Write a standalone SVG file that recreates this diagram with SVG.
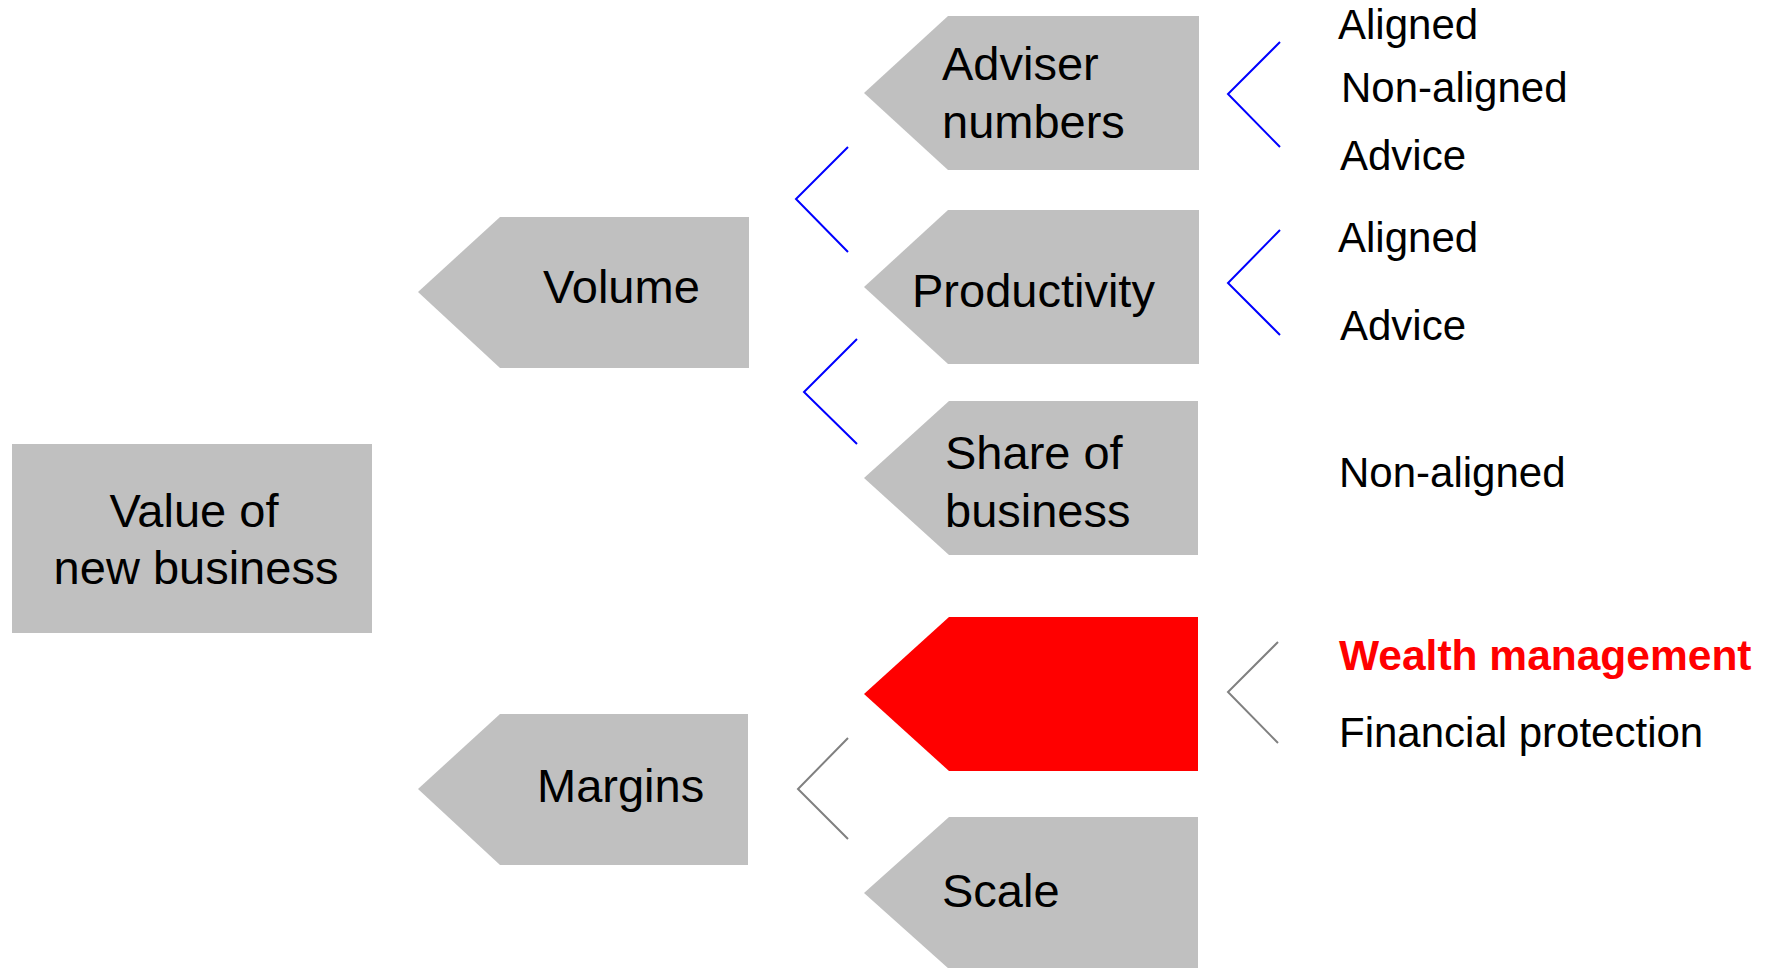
<svg xmlns="http://www.w3.org/2000/svg" width="1771" height="968" viewBox="0 0 1771 968">
<style>
.box{fill:#C0C0C0}
.red{fill:#FF0000}
.t{font-family:"Liberation Sans",Arial,sans-serif;font-size:47px;fill:#000}
.s{font-family:"Liberation Sans",Arial,sans-serif;font-size:42px;fill:#000}
.wm{font-family:"Liberation Sans",Arial,sans-serif;font-size:42.5px;font-weight:bold;fill:#FF0000}
.cb{fill:none;stroke:#0000FF;stroke-width:2}
.cg{fill:none;stroke:#808080;stroke-width:2}
</style>
<rect width="1771" height="968" fill="#FFFFFF"/>
<g id="value">
<rect class="box" x="12" y="444" width="360" height="189"/>
<text class="t" x="194" y="527" text-anchor="middle">Value of</text>
<text class="t" x="196" y="584" text-anchor="middle">new business</text>
</g>
<g id="volume">
<polygon class="box" points="418,292 500,217 749,217 749,368 500,368"/>
<text class="t" x="543" y="303">Volume</text>
</g>
<g id="margins">
<polygon class="box" points="418,789 500,714 748,714 748,865 500,865"/>
<text class="t" x="537" y="802">Margins</text>
</g>
<g id="adviser">
<polygon class="box" points="864,93 948,16 1199,16 1199,170 948,170"/>
<text class="t" x="942" y="80">Adviser</text>
<text class="t" x="942" y="138">numbers</text>
</g>
<g id="productivity">
<polygon class="box" points="864,287 948,210 1199,210 1199,364 948,364"/>
<text class="t" x="912" y="307">Productivity</text>
</g>
<g id="share">
<polygon class="box" points="864,478 949,401 1198,401 1198,555 949,555"/>
<text class="t" x="945" y="469">Share of</text>
<text class="t" x="945" y="527">business</text>
</g>
<g id="wealth-node">
<polygon class="red" points="864,694 949,617 1198,617 1198,771 949,771"/>
</g>
<g id="scale">
<polygon class="box" points="864,893 949,817 1198,817 1198,969 949,969"/>
<text class="t" x="942" y="907">Scale</text>
</g>
<g id="connectors">
<polyline class="cb" points="848,147 796,199 848,252"/>
<polyline class="cb" points="857,339 804,392 857,444"/>
<polyline class="cb" points="1280,42 1228,94 1280,147"/>
<polyline class="cb" points="1280,230 1228,283 1280,335"/>
<polyline class="cg" points="1278,642 1228,692 1278,743"/>
<polyline class="cg" points="848,738 798,789 848,839"/>
</g>
<g id="leaves">
<text class="s" x="1338" y="39">Aligned</text>
<text class="s" x="1341" y="102">Non-aligned</text>
<text class="s" x="1340" y="170">Advice</text>
<text class="s" x="1338" y="252">Aligned</text>
<text class="s" x="1340" y="340">Advice</text>
<text class="s" x="1339" y="487">Non-aligned</text>
<text class="wm" x="1339" y="670">Wealth management</text>
<text class="s" x="1339" y="747">Financial protection</text>
</g>
</svg>
